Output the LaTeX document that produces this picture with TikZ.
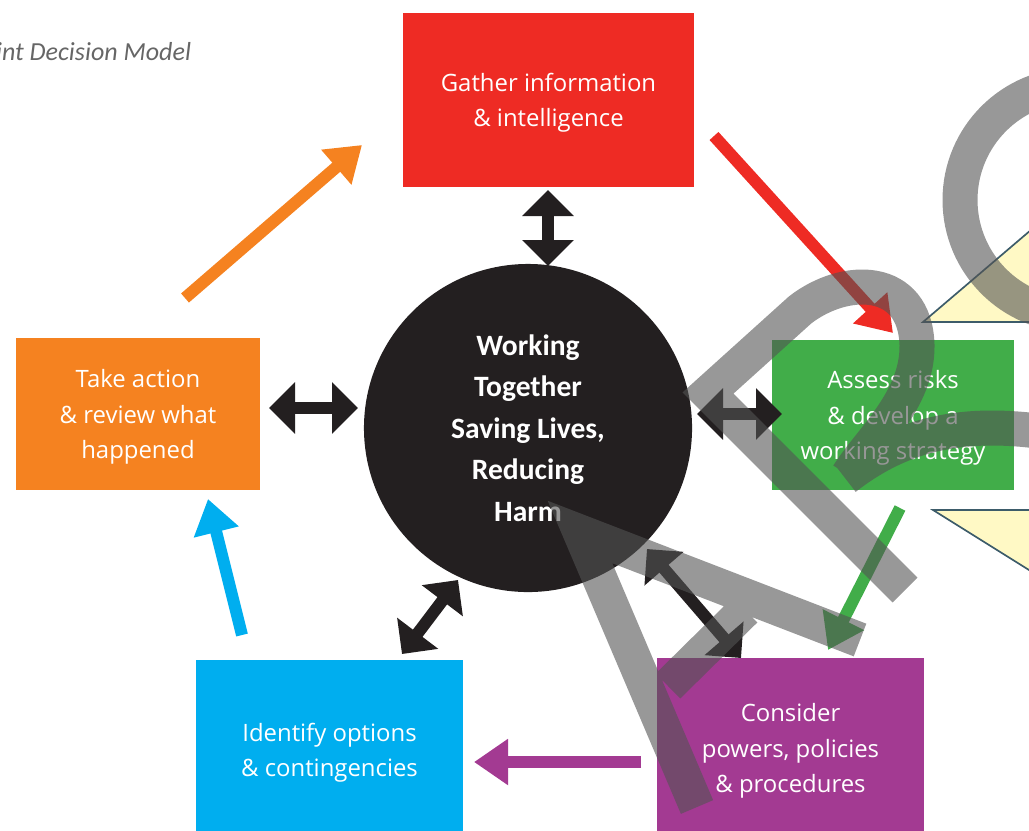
\documentclass[tikz,border=0pt]{standalone}
\usepackage{fontspec}
\setmainfont{Open Sans}
\newfontfamily\carlito{Carlito}
\usetikzlibrary{arrows.meta}
\definecolor{gatherred}{HTML}{EE2B24}
\definecolor{assessgreen}{HTML}{41AD49}
\definecolor{considerpurple}{HTML}{A33A92}
\definecolor{identifyblue}{HTML}{00AEEF}
\definecolor{actorange}{HTML}{F58220}
\definecolor{hubblack}{HTML}{231F20}
\definecolor{titlegray}{HTML}{666666}
\definecolor{inkgray}{HTML}{535353}
\definecolor{paleyellow}{HTML}{FFF9C5}
\definecolor{slate}{HTML}{3D5C6A}
\begin{document}
\begin{tikzpicture}[x=0.025cm,y=-0.025cm,
  box/.style={rectangle,inner sep=0pt,text=white,align=center,
    font=\fontsize{17}{25}\selectfont,text depth=-4.2pt},
  loop/.style={line width=0.3cm,-{Triangle[length=0.85cm,width=1.1cm]}},
  link/.style={line width=0.3cm,draw=hubblack,
    {Triangle[length=0.65cm,width=1.25cm]}-{Triangle[length=0.65cm,width=1.25cm]}},
  ink/.style={line width=0.875cm,draw=inkgray,opacity=0.6}]
\useasboundingbox (0,0) rectangle (1029,830);
\clip (0,0) rectangle (1029,830);
\node[anchor=base east,text=titlegray,
  font=\carlito\itshape\fontsize{18.5}{22}\selectfont] (title) at (196,60) {Joint Decision Model};
% the five steps
\node[box,fill=gatherred,minimum width=7.275cm,minimum height=4.35cm] (gather) at (548.5,100)
  {Gather information\\ \& intelligence};
\node[box,fill=assessgreen,minimum width=6.05cm,minimum height=3.75cm] (assess) at (893,415)
  {Assess risks\\ \& develop a\\ working strategy};
\node[box,fill=considerpurple,minimum width=6.675cm,minimum height=4.5cm] (consider) at (790.5,748)
  {Consider\\ powers, policies\\ \& procedures};
\node[box,fill=identifyblue,minimum width=6.675cm,minimum height=4.5cm] (identify) at (329.5,750)
  {Identify options\\ \& contingencies};
\node[box,fill=actorange,minimum width=6.1cm,minimum height=3.8cm] (act) at (138,414)
  {Take action\\ \& review what\\ happened};
\node[circle,fill=hubblack,inner sep=0pt,minimum size=8.2cm,text=white,align=center,
  font=\carlito\bfseries\fontsize{21}{29.5}\selectfont,text depth=-8pt] (hub) at (528,428)
  {Working\\ Together\\ Saving Lives,\\ Reducing\\ Harm};
% cycle arrows
\coordinate (o1) at (185,298); \coordinate (o2) at (362,145);
\coordinate (r1) at (714,136); \coordinate (r2) at (893,333);
\coordinate (g1) at (900,508); \coordinate (g2) at (828,650);
\coordinate (p1) at (641,762); \coordinate (p2) at (474,762);
\coordinate (b1) at (242,635); \coordinate (b2) at (208,499);
\draw[loop,actorange] (o1) -- (o2);
\draw[loop,gatherred] (r1) -- (r2);
\draw[loop,assessgreen] (g1) -- (g2);
\draw[loop,considerpurple] (p1) -- (p2);
\draw[loop,identifyblue] (b1) -- (b2);
% links to the centre
\coordinate (t1) at (548,190); \coordinate (t2) at (548,266);
\coordinate (l1) at (269,408); \coordinate (l2) at (358,408);
\coordinate (k1) at (697,414); \coordinate (k2) at (782,414);
\coordinate (m1) at (402,654); \coordinate (m2) at (458,580);
\coordinate (n1) at (647,549); \coordinate (n2) at (741,658);
\draw[link] (t1) -- (t2);
\draw[link] (l1) -- (l2);
\draw[link] (k1) -- (k2);
\draw[link] (m1) -- (m2);
\draw[link] (n1) -- (n2);
% overlay
\draw[slate,fill=paleyellow,line width=1.2pt] (923,322) -- (1045,322) -- (1045,218) -- cycle;
\draw[slate,fill=paleyellow,line width=1.2pt] (933,510) -- (1045,510) -- (1045,580) -- cycle;
\draw[ink,line join=miter]
  (1075,200) circle [radius=115]
  (905,590) -- (708,393) -- (800,310)
    .. controls (845,275) and (915,275) .. (917,345)
    .. controls (918,400) and (870,440) .. (848,475)
  (845,478) .. controls (900,435) and (960,420) .. (1045,432)
  (697,807) -- (580,532) -- (860,640)
  (745,610) -- (668,686);
\end{tikzpicture}
\end{document}
